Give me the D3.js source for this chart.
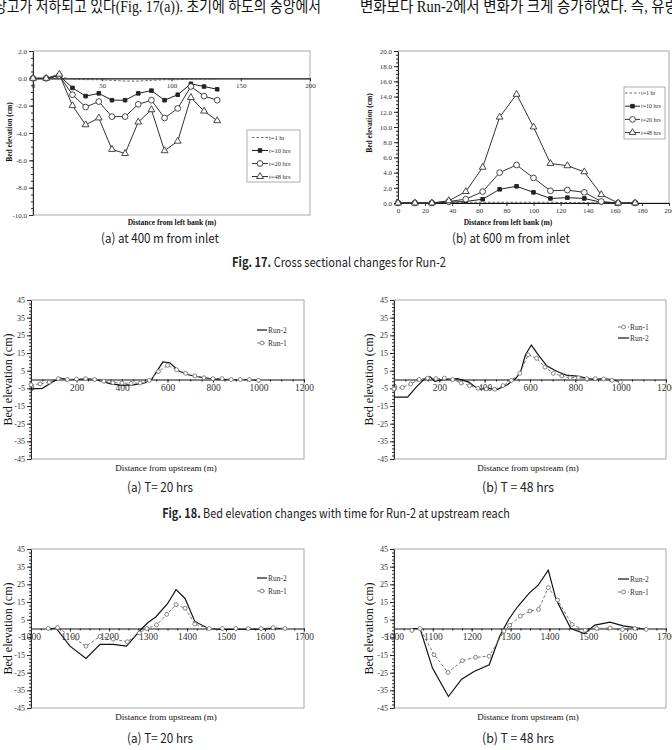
<!DOCTYPE html>
<html>
<head>
<meta charset="utf-8">
<script src="https://cdn.jsdelivr.net/npm/d3@7"></script>
<style>
  body { margin: 0; background: #fff; }
  svg { display: block; }
</style>
</head>
<body>
<script>
// ---- Fig. 17 (a): cross section at 400 m, distance from left bank (m) vs bed elevation (cm)
const xs17a   = [0, 9.5, 19, 28.5, 38, 47.5, 57, 66.5, 76, 85.5, 95, 104.5, 114, 123.5, 133];
const a17_t1  = [0, 0, 0.1, -0.05, -0.1, -0.1, -0.15, -0.2, -0.2, -0.15, -0.1, -0.1, -0.05, -0.05, -0.05];
const a17_t10 = [0, 0, 0.2, -0.7, -1.3, -1.1, -1.6, -1.6, -1.1, -0.9, -1.6, -1.2, -0.4, -0.6, -0.8];
const a17_t20 = [0, 0, 0.2, -1.2, -2.1, -1.7, -2.8, -2.8, -1.9, -1.6, -2.9, -2.2, -0.6, -1.3, -1.6];
const a17_t48 = [0, 0, 0.3, -2.0, -3.4, -2.9, -5.2, -5.5, -3.2, -2.3, -5.3, -4.6, -1.4, -2.4, -3.1];

// ---- Fig. 17 (b): cross section at 600 m
const xs17b   = [0, 12.5, 25, 37.5, 50, 62.5, 75, 87.5, 100, 112.5, 125, 137.5, 150, 162.5, 175];
const b17_t1  = [0, 0, 0, 0.05, 0.1, 0.1, 0.1, 0.1, 0.1, 0.1, 0.05, 0.05, 0, 0, 0];
const b17_t10 = [0, 0, 0, 0.1, 0.2, 0.5, 1.8, 2.2, 1.4, 0.6, 0.7, 0.6, 0.1, 0, 0];
const b17_t20 = [0, 0, 0, 0.2, 0.5, 1.5, 4.0, 5.0, 3.3, 1.6, 1.7, 1.4, 0.2, 0, 0];
const b17_t48 = [0, 0, 0, 0.3, 1.5, 4.7, 11.3, 14.3, 10.0, 5.2, 4.9, 4.1, 1.1, 0, 0];
const legend17 = ['t=1 hr', 't=10 hrs', 't=20 hrs', 't=48 hrs'];

// ---- Fig. 18 (a): T = 20 hrs, upstream reach
const x18a_run2 = [0, 50, 100, 130, 160, 200, 250, 300, 350, 400, 450, 500, 530, 555, 580, 610, 650, 690, 750, 800, 850, 900, 950, 1000];
const y18a_run2 = [-5.3, -5, -1, 0.8, 0, 0, 0.3, -0.5, -2.5, -3.3, -3, -2, 0, 5, 10, 9.5, 4.8, 2.7, 1.2, 0.3, 0, 0, 0, -0.5];
const x18a_run1 = [0, 40, 80, 120, 160, 200, 240, 280, 320, 360, 400, 440, 480, 520, 560, 600, 640, 680, 720, 760, 800, 840, 880, 920, 960, 1000];
const y18a_run1 = [-3, -2.5, -1.5, 0.5, 0, 0.3, 0.5, 0, -1, -1.8, -2, -2.2, -2, -0.5, 4.5, 8, 5.5, 3.5, 2, 1, 0.5, 0.5, 0, 0, 0, -0.5];

// ---- Fig. 18 (b): T = 48 hrs
const x18b_run2 = [0, 60, 100, 140, 160, 180, 220, 280, 330, 370, 420, 455, 500, 540, 560, 580, 606, 638, 675, 720, 760, 807, 850, 880, 920, 960, 1000];
const y18b_run2 = [-10, -10, -4, 1, 1.5, -1, 0, 0.5, -1.5, -5.3, -5, -5.7, -3, 1, 5, 14, 19.5, 13.7, 7.6, 4.5, 2.5, 1.9, 0.8, 0, 0.5, 0, -1.5];
const x18b_run1 = [0, 37, 74, 111, 148, 185, 222, 259, 296, 333, 370, 407, 444, 481, 518, 555, 592, 629, 666, 703, 740, 777, 814, 851, 888, 925, 962, 999];
const y18b_run1 = [-5.3, -4.5, -2.5, 0, 0.8, 0.5, 0.8, 0, -2, -3.5, -5, -5.3, -5.5, -3.5, -0.5, 3.5, 14, 12, 7, 3.5, 2, 1, 1, 0.5, 0.5, 0.3, -0.5, -1.5];

// ---- Fig. 19 (a): T = 20 hrs, downstream reach
const x19a_run2 = [1040, 1065, 1100, 1141, 1177, 1211, 1245, 1280, 1300, 1320, 1350, 1372, 1395, 1420, 1455, 1490, 1525, 1557, 1590, 1621, 1651];
const y19a_run2 = [0, 0, -10, -17, -9, -9, -10, -1, 3.4, 6.5, 14, 22, 17, 4, 0, -0.5, -0.5, -0.3, -0.3, 0, 0];
const x19a_run1 = [1044, 1068, 1141, 1177, 1211, 1247, 1278, 1297, 1322, 1348, 1372, 1395, 1420, 1457, 1491, 1525, 1557, 1590, 1621, 1651];
const y19a_run1 = [0, 0.5, -10, -4.5, -6, -7.5, -2.5, 0, 2, 8, 13.5, 11.5, 2.5, 0, 0, 0, 0, 0, 0.5, 0];

// ---- Fig. 19 (b): T = 48 hrs
const x19b_run2 = [1046, 1067, 1099, 1140, 1174, 1206, 1245, 1272, 1295, 1318, 1348, 1371, 1397, 1417, 1455, 1490, 1517, 1556, 1590, 1620, 1650];
const y19b_run2 = [0, 0, -22.4, -38.5, -28.7, -24.3, -20.5, -4.4, 5.1, 12.3, 20, 24.5, 33, 16.5, 0, -2.8, 1.9, 3.6, 1.5, 0.5, -0.5];
const x19b_run1 = [1046, 1067, 1103, 1139, 1176, 1210, 1245, 1283, 1298, 1325, 1350, 1372, 1397, 1421, 1458, 1492, 1522, 1556, 1588, 1620, 1649];
const y19b_run1 = [-1.1, 0, -14.8, -24.9, -18.2, -16.3, -15.7, -1.5, 1.9, 7, 9.9, 10.8, 23.1, 16.1, 2.3, -1, 0, 0.3, -0.5, 0, -0.5];

const SERIF = '"Liberation Serif", "Times New Roman", serif';
const SANS = '"Noto Sans CJK KR", "Noto Sans", sans-serif';
const INK = '#2b2b2b';

const svg = d3.select('body').append('svg').attr('width', 672).attr('height', 750);

function text(x, y, str, o){
  const t = svg.append('text').attr('x', x).attr('y', y).attr('dy', '0.35em')
    .attr('text-anchor', o.anchor || 'middle')
    .style('font-family', o.font || SANS).style('font-size', o.size + 'px')
    .style('font-weight', o.weight || 'normal').attr('fill', o.fill || '#222')
    .text(str);
  if(o.rotate) t.attr('transform', 'rotate(-90,' + x + ',' + y + ')');
  return t;
}

// condensed caption: natural text squeezed horizontally to the width seen in the scan
function caption(cx, cy, parts, width, size){
  const g = svg.append('g');
  const t = g.append('text').attr('x', 0).attr('y', 0).attr('dy', '0.35em').attr('text-anchor', 'middle')
    .style('font-family', SANS).style('font-size', size + 'px').attr('fill', '#222');
  parts.forEach(p => t.append('tspan').style('font-weight', p.bold ? 'bold' : 'normal').text(p.t));
  const w = t.node().getComputedTextLength();
  g.attr('transform', 'translate(' + cx + ',' + cy + ') scale(' + (width / w) + ',1)');
}

function markerPath(kind, size){
  const type = kind === 'square' ? d3.symbolSquare : kind === 'triangle' ? d3.symbolTriangle : d3.symbolCircle;
  return d3.symbol().type(type).size(size)();
}

function drawSeries(g, x, y, s){
  const pts = d3.zip(s.x, s.y);
  g.append('path').datum(pts)
    .attr('d', d3.line().x(d => x(d[0])).y(d => y(d[1])))
    .attr('fill', 'none').attr('stroke', s.color).attr('stroke-width', s.width)
    .attr('stroke-dasharray', s.dash || null);
  if(s.marker){
    g.append('g').selectAll('path').data(pts).join('path')
      .attr('transform', d => 'translate(' + x(d[0]) + ',' + y(d[1]) + ')')
      .attr('d', markerPath(s.marker, s.msize))
      .attr('fill', s.marker === 'square' ? s.color : '#fff')
      .attr('stroke', s.color).attr('stroke-width', 0.9);
  }
}

function panel(c){
  const x = d3.scaleLinear().domain(c.xDomain).range([c.left, c.right]);
  const y = d3.scaleLinear().domain(c.yDomain).range([c.bottom, c.top]);
  const g = svg.append('g');

  g.append('rect').attr('x', c.left).attr('y', c.top)
    .attr('width', c.right - c.left).attr('height', c.bottom - c.top)
    .attr('fill', 'none').attr('stroke', '#a8a8a8').attr('stroke-width', 1);

  // y axis: minor + major ticks
  g.append('g').attr('transform', 'translate(' + c.left + ',0)')
    .call(d3.axisLeft(y).tickValues(c.yMinor).tickSize(2).tickSizeOuter(0).tickFormat(''))
    .call(s => s.select('.domain').remove())
    .call(s => s.selectAll('line').attr('stroke', INK));
  g.append('g').attr('transform', 'translate(' + c.left + ',0)')
    .call(d3.axisLeft(y).tickValues(c.yTicks).tickSize(4).tickSizeOuter(0).tickPadding(2).tickFormat(c.yFmt))
    .call(s => s.select('.domain').attr('stroke', INK))
    .call(s => s.selectAll('line').attr('stroke', INK))
    .call(s => s.selectAll('text').style('font-family', SERIF).style('font-size', c.yTickSize + 'px').attr('fill', '#333'));

  // x axis: on the zero line or along the bottom
  const xy = c.xAtBottom ? c.bottom : y(0);
  if(c.xMinor){
    g.append('g').attr('transform', 'translate(0,' + xy + ')')
      .call(d3.axisBottom(x).tickValues(c.xMinor).tickSize(2).tickSizeOuter(0).tickFormat(''))
      .call(s => s.select('.domain').remove())
      .call(s => s.selectAll('line').attr('stroke', INK));
  }
  g.append('g').attr('transform', 'translate(0,' + xy + ')')
    .call(d3.axisBottom(x).tickValues(c.xTicks).tickSize(3).tickSizeOuter(0).tickPadding(2).tickFormat(d3.format('d')))
    .call(s => s.select('.domain').attr('stroke', '#111').attr('stroke-width', c.xAtBottom ? 1 : 1.1))
    .call(s => s.selectAll('line').attr('stroke', INK))
    .call(s => s.selectAll('text').style('font-family', SERIF).style('font-size', c.xTickSize + 'px').attr('fill', '#333'));

  c.series.forEach(s => drawSeries(g, x, y, s));

  // legend
  const L = c.legend;
  if(L.box){
    g.append('rect').attr('x', L.box[0]).attr('y', L.box[1]).attr('width', L.box[2]).attr('height', L.box[3])
      .attr('fill', '#fff').attr('stroke', '#999').attr('stroke-width', 0.8);
  }
  L.items.forEach((it, i) => {
    const s = c.series[it.series];
    const ly = L.y + i * L.dy;
    drawSeries(g, d3.scaleIdentity(), d3.scaleIdentity(), Object.assign({}, s, {x: [L.x, L.x + L.len], y: [ly, ly], marker: null}));
    if(s.marker){
      g.append('path').attr('transform', 'translate(' + (L.x + L.len / 2) + ',' + ly + ')')
        .attr('d', markerPath(s.marker, s.msize))
        .attr('fill', s.marker === 'square' ? s.color : '#fff').attr('stroke', s.color).attr('stroke-width', 0.9);
    }
    g.append('text').attr('x', L.x + L.len + 1).attr('y', ly).attr('dy', '0.35em')
      .style('font-family', SERIF).style('font-size', L.size + 'px').attr('fill', '#333').text(it.label);
  });

  // axis titles
  text(c.yTitle[0], c.yTitle[1], 'Bed elevation (cm)', {font: SERIF, size: c.yTitleSize, weight: c.titleWeight, rotate: true, fill: '#111'});
  text(c.xTitle[0], c.xTitle[1], c.xTitleText, {font: SERIF, size: c.xTitleSize, weight: c.titleWeight, fill: '#111'});
}

const fmt1 = d => d.toFixed(1);
const fmt0 = d => String(d);

function s17(xs, t1, t10, t20, t48){
  return [
    {x: xs, y: t1, color: '#555', width: 0.9, dash: '2.5,2'},
    {x: xs, y: t10, color: '#222', width: 1, marker: 'square', msize: 13},
    {x: xs, y: t20, color: '#333', width: 1, marker: 'circle', msize: 26},
    {x: xs, y: t48, color: '#333', width: 1, marker: 'triangle', msize: 20}
  ];
}

// Fig. 17 (a)
panel({
  left: 33, right: 310, top: 51, bottom: 215,
  xDomain: [0, 200], yDomain: [-10, 2],
  yTicks: d3.range(-10, 2.01, 2), yMinor: d3.range(-10, 2.01, 0.5), yFmt: fmt1, yTickSize: 7,
  xTicks: d3.range(0, 201, 50), xTickSize: 7,
  series: s17(xs17a, a17_t1, a17_t10, a17_t20, a17_t48),
  legend: {box: [247, 130, 53, 52], x: 252, y: 137.5, dy: 13, len: 16, size: 6.5,
    items: legend17.map((label, i) => ({label, series: i}))},
  yTitle: [9, 132], yTitleSize: 7.5, titleWeight: 'bold',
  xTitle: [172, 222], xTitleText: 'Distance from left bank (m)', xTitleSize: 7.5
});

// Fig. 17 (b)
panel({
  left: 398, right: 669, top: 51, bottom: 203,
  xDomain: [0, 200], yDomain: [0, 20], xAtBottom: true,
  yTicks: d3.range(0, 20.01, 2), yMinor: d3.range(0, 20.01, 0.5), yFmt: fmt1, yTickSize: 7,
  xTicks: d3.range(0, 201, 20), xTickSize: 7,
  series: s17(xs17b, b17_t1, b17_t10, b17_t20, b17_t48),
  legend: {box: [624, 87, 41, 52], x: 625, y: 93, dy: 13.2, len: 15, size: 6,
    items: legend17.map((label, i) => ({label, series: i}))},
  yTitle: [369, 123], yTitleSize: 7.5, titleWeight: 'bold',
  xTitle: [508, 222], xTitleText: 'Distance from left bank (m)', xTitleSize: 7.5
});

function s18(x2, y2, x1, y1){
  return [
    {x: x2, y: y2, color: '#111', width: 1.2},
    {x: x1, y: y1, color: '#777', width: 1, dash: '3,2', marker: 'circle', msize: 12}
  ];
}
function panel18(left, right, top, bottom, xDomain, xStep, xMinorStep, series, legend, yTitleX, xTitleX){
  panel({
    left, right, top, bottom, xDomain, yDomain: [-45, 45],
    yTicks: d3.range(-45, 45.01, 10), yMinor: d3.range(-45, 45.01, 2), yFmt: fmt0, yTickSize: 8,
    xTicks: d3.range(xDomain[0], xDomain[1] + 1, xStep), xMinor: d3.range(xDomain[0], xDomain[1] + 1, xMinorStep), xTickSize: 9.5,
    series, legend,
    yTitle: [yTitleX, (top + bottom) / 2], yTitleSize: 12, titleWeight: 'normal',
    xTitle: [xTitleX, bottom + 9], xTitleText: 'Distance from upstream (m)', xTitleSize: 9
  });
}

const runLegendA = [{label: 'Run-2', series: 0}, {label: 'Run-1', series: 1}];
const runLegendB = [{label: 'Run-1', series: 1}, {label: 'Run-2', series: 0}];

// Fig. 18
panel18(31, 304, 300, 459, [0, 1200], 200, 50, s18(x18a_run2, y18a_run2, x18a_run1, y18a_run1),
  {x: 257, y: 330, dy: 13, len: 10, size: 7.5, items: runLegendA}, 8, 166);
panel18(394, 666, 300, 459, [0, 1200], 200, 50, s18(x18b_run2, y18b_run2, x18b_run1, y18b_run1),
  {x: 618, y: 327, dy: 11, len: 11, size: 7.5, items: runLegendB}, 369, 528);

// Fig. 19
panel18(31, 304, 549, 708, [1000, 1700], 100, 25, s18(x19a_run2, y19a_run2, x19a_run1, y19a_run1),
  {x: 257, y: 578, dy: 13, len: 10, size: 7.5, items: runLegendA}, 8, 166);
panel18(394, 666, 549, 708, [1000, 1700], 100, 25, s18(x19b_run2, y19b_run2, x19b_run1, y19b_run1),
  {x: 618, y: 579, dy: 13, len: 11, size: 7.5, items: runLegendA}, 369, 528);

// running text at the top of the page (cut off by the page edges)
const bodyFont = '"Liberation Serif", "Noto Sans CJK KR", serif';
const top1 = text(-6, 6, '상고가 저하되고 있다(Fig. 17(a)). 초기에 하도의 중앙에서', {anchor: 'start', size: 16, fill: '#111', font: bodyFont});
top1.attr('textLength', 327).attr('lengthAdjust', 'spacingAndGlyphs');
const top2 = text(360, 6, '변화보다 Run-2에서 변화가 크게 증가하였다. 즉, 유량', {anchor: 'start', size: 16, fill: '#111', font: bodyFont});
top2.attr('textLength', 318).attr('lengthAdjust', 'spacingAndGlyphs');

// sub captions
caption(160, 238, [{t: '(a) at 400 m from inlet'}], 118, 13);
caption(511, 238, [{t: '(b) at 600 m from inlet'}], 118, 13);
caption(160, 487, [{t: '(a) T= 20 hrs'}], 66, 13);
caption(518, 487, [{t: '(b) T = 48 hrs'}], 72, 13);
caption(160, 738, [{t: '(a) T= 20 hrs'}], 66, 13);
caption(518, 738, [{t: '(b) T = 48 hrs'}], 72, 13);

// figure captions
caption(339, 262, [{t: 'Fig. 17.', bold: true}, {t: ' Cross sectional changes for Run-2'}], 214, 13);
caption(336, 513, [{t: 'Fig. 18.', bold: true}, {t: ' Bed elevation changes with time for Run-2 at upstream reach'}], 348, 13);
</script>
</body>
</html>
